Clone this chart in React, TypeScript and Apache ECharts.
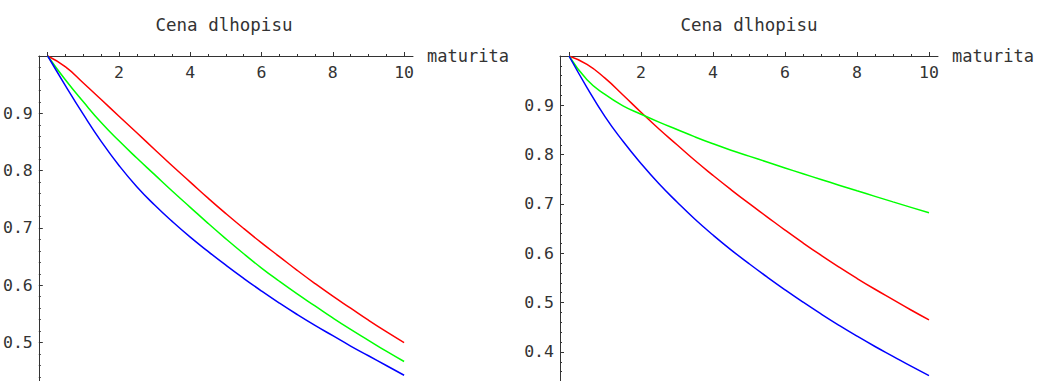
import React, { useEffect, useRef } from "react";
import * as echarts from "echarts";

// maturities (years)
const maturities = [0, 0.5, 1, 1.5, 2, 2.5, 3, 3.5, 4, 4.5, 5, 5.5, 6, 6.5, 7, 7.5, 8, 8.5, 9, 9.5, 10];

// left panel: bond prices
const leftRed = [1, 0.981, 0.953, 0.924, 0.895, 0.866, 0.837, 0.808, 0.78, 0.752, 0.725, 0.699, 0.674, 0.65, 0.626, 0.603, 0.581, 0.56, 0.539, 0.519, 0.5];
const leftGreen = [1, 0.958, 0.92, 0.884, 0.852, 0.822, 0.793, 0.764, 0.736, 0.708, 0.681, 0.655, 0.63, 0.607, 0.585, 0.564, 0.543, 0.523, 0.504, 0.485, 0.467];
const leftBlue = [1, 0.948, 0.898, 0.851, 0.809, 0.772, 0.74, 0.711, 0.684, 0.659, 0.635, 0.612, 0.59, 0.569, 0.549, 0.53, 0.512, 0.494, 0.477, 0.46, 0.443];

// right panel: bond prices
const rightRed = [1, 0.983, 0.955, 0.921, 0.886, 0.852, 0.82, 0.788, 0.758, 0.729, 0.701, 0.674, 0.647, 0.621, 0.596, 0.572, 0.549, 0.527, 0.506, 0.485, 0.465];
const rightGreen = [1, 0.952, 0.922, 0.899, 0.882, 0.866, 0.851, 0.836, 0.822, 0.809, 0.797, 0.785, 0.773, 0.7612, 0.7496, 0.7381, 0.7267, 0.7154, 0.7042, 0.6931, 0.682];
const rightBlue = [1, 0.936, 0.877, 0.827, 0.782, 0.741, 0.704, 0.669, 0.637, 0.607, 0.579, 0.552, 0.526, 0.501, 0.477, 0.454, 0.432, 0.411, 0.391, 0.371, 0.352];

// ticks
const xMajorTicks = [0, 2, 4, 6, 8, 10];
const xLabels = [2, 4, 6, 8, 10];
const xMinorTicks = [0.5, 1, 1.5, 2.5, 3, 3.5, 4.5, 5, 5.5, 6.5, 7, 7.5, 8.5, 9, 9.5];
const leftYMajor = [0.5, 0.6, 0.7, 0.8, 0.9, 1.0];
const leftYLabels = [0.5, 0.6, 0.7, 0.8, 0.9];
const leftYMinor = [0.44, 0.46, 0.48, 0.52, 0.54, 0.56, 0.58, 0.62, 0.64, 0.66, 0.68, 0.72, 0.74, 0.76, 0.78, 0.82, 0.84, 0.86, 0.88, 0.92, 0.94, 0.96, 0.98];
const rightYMajor = [0.4, 0.5, 0.6, 0.7, 0.8, 0.9, 1.0];
const rightYLabels = [0.4, 0.5, 0.6, 0.7, 0.8, 0.9];
const rightYMinor = [0.34, 0.36, 0.38, 0.42, 0.44, 0.46, 0.48, 0.52, 0.54, 0.56, 0.58, 0.62, 0.64, 0.66, 0.68, 0.72, 0.74, 0.76, 0.78, 0.82, 0.84, 0.86, 0.88, 0.92, 0.94, 0.96, 0.98];

const titleText = "Cena dlhopisu";
const xName = "maturita";

const FONT = "'DejaVu Sans Mono', 'Liberation Mono', monospace";
const AX = "#333";

function pairs(ys: number[]) {
  return maturities.map((t, i) => [t, ys[i]]);
}

function xAxes(gridIndex: number) {
  return [
    {
      type: "value",
      gridIndex,
      position: "top",
      min: -0.25,
      max: 10.25,
      axisLine: { show: true, onZero: false, lineStyle: { color: AX, width: 1 } },
      axisTick: { show: true, customValues: xMajorTicks, length: 4, lineStyle: { color: AX } },
      axisLabel: {
        show: true,
        customValues: xLabels,
        inside: true,
        margin: 8,
        fontFamily: FONT,
        fontSize: 16.5,
        color: AX,
      },
      splitLine: { show: false },
      name: xName,
      nameLocation: "end",
      nameGap: 14,
      nameTextStyle: { fontFamily: FONT, fontSize: 17, color: AX, align: "left", verticalAlign: "middle" },
    },
    {
      type: "value",
      gridIndex,
      position: "top",
      min: -0.25,
      max: 10.25,
      axisLine: { show: false, onZero: false },
      axisTick: { show: true, customValues: xMinorTicks, length: 2, lineStyle: { color: AX } },
      axisLabel: { show: false },
      splitLine: { show: false },
    },
  ];
}

function yAxes(gridIndex: number, min: number, major: number[], labels: number[], minor: number[]) {
  return [
    {
      type: "value",
      gridIndex,
      position: "left",
      min,
      max: 1,
      axisLine: { show: true, onZero: false, lineStyle: { color: AX, width: 1 } },
      axisTick: { show: true, inside: true, customValues: major, length: 4, lineStyle: { color: AX } },
      axisLabel: {
        show: true,
        customValues: labels,
        margin: 6,
        fontFamily: FONT,
        fontSize: 16.5,
        color: AX,
        formatter: (v: number) => v.toFixed(1),
      },
      splitLine: { show: false },
    },
    {
      type: "value",
      gridIndex,
      position: "left",
      offset: 0,
      min,
      max: 1,
      axisLine: { show: false, onZero: false },
      axisTick: { show: true, inside: true, customValues: minor, length: 2, lineStyle: { color: AX } },
      axisLabel: { show: false },
      splitLine: { show: false },
    },
  ];
}

function line(data: number[], color: string, xAxisIndex: number, yAxisIndex: number) {
  return {
    type: "line",
    data: pairs(data),
    xAxisIndex,
    yAxisIndex,
    smooth: true,
    showSymbol: false,
    symbol: "none",
    lineStyle: { color, width: 1.5 },
    itemStyle: { color },
    silent: true,
  };
}

export default function App() {
  const ref = useRef<HTMLDivElement>(null);
  useEffect(() => {
    if (!ref.current) return;
    const chart = echarts.init(ref.current, undefined, { renderer: "svg" });
    const titleStyle = {
      text: titleText,
      fontFamily: FONT,
      fontSize: 17.5,
      fill: AX,
      textAlign: "center",
      textVerticalAlign: "middle",
    };
    const option: any = {
      animation: false,
      backgroundColor: "#ffffff",
      graphic: [
        { type: "text", x: 224, y: 25, style: titleStyle },
        { type: "text", x: 749, y: 25, style: titleStyle },
      ],
      grid: [
        { left: 35, top: 56, width: 378, height: 325 },
        { left: 560, top: 56, width: 378, height: 325 },
      ],
      xAxis: [...xAxes(0), ...xAxes(1)],
      yAxis: [
        ...yAxes(0, 0.433, leftYMajor, leftYLabels, leftYMinor),
        ...yAxes(1, 0.341, rightYMajor, rightYLabels, rightYMinor),
      ],
      series: [
        line(leftRed, "#ff0000", 0, 0),
        line(leftGreen, "#00ff00", 0, 0),
        line(leftBlue, "#0000ff", 0, 0),
        line(rightRed, "#ff0000", 2, 2),
        line(rightGreen, "#00ff00", 2, 2),
        line(rightBlue, "#0000ff", 2, 2),
      ],
    };
    chart.setOption(option);
    return () => chart.dispose();
  }, []);
  return (
    <div
      ref={ref}
      style={{ position: "fixed", left: 0, top: 0, width: 1038, height: 381, background: "#fff" }}
    />
  );
}
